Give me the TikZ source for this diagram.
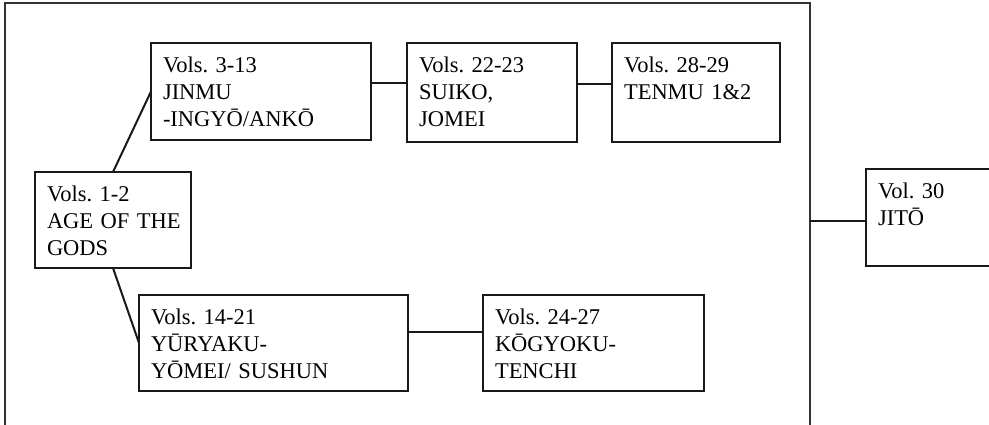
\documentclass[tikz,border=0pt]{standalone}
\usepackage{fontspec}
\setmainfont{Liberation Serif}
\frenchspacing
\begin{document}
\begin{tikzpicture}[x=1pt,y=-1pt,
  bx/.style={draw=black!90, line width=2.2pt, anchor=north west, outer sep=0pt,
    inner xsep=12pt, inner ysep=0pt, align=left, text height=29pt,
    font=\fontsize{22.5}{27}\selectfont},
  conn/.style={draw=black!90, line width=2pt},
  frm/.style={draw=black!80, line width=1.7pt, anchor=north west, outer sep=0pt, inner sep=0pt}]
\useasboundingbox (0,0) rectangle (989,424);
\node[frm, minimum width=805pt, minimum height=440pt] (frame) at (5,3) {};
\node[bx, text width=196pt, text depth=68pt] (b313) at (151,43) {Vols. 3-13\\JINMU\\-INGYŌ/ANKŌ};
\node[bx, text width=146pt, text depth=70pt] (b2223) at (407,43) {Vols. 22-23\\SUIKO,\\JOMEI};
\node[bx, text width=144pt, text depth=70pt] (b2829) at (612,43) {Vols. 28-29\\TENMU 1\&2};
\node[bx, text width=132pt, text depth=67pt] (b12) at (35,172) {Vols. 1-2\\\mbox{AGE OF THE}\\GODS};
\node[bx, text width=245pt, text depth=67pt] (b1421) at (139,295) {Vols. 14-21\\YŪRYAKU-\\YŌMEI/ SUSHUN};
\node[bx, text width=197pt, text depth=67pt] (b2427) at (483,295) {Vols. 24-27\\KŌGYOKU-\\TENCHI};
\node[bx, text width=140pt, text depth=68pt] (b30) at (866,169) {Vol. 30\\JITŌ};
\draw[conn] (b12.north) -- (b313.west);
\draw[conn] (b12.south) -- (b1421.west);
\draw[conn] ([yshift=9pt]b313.east) -- ([yshift=9pt]b313.east -| b2223.west);
\draw[conn] ([yshift=9pt]b2223.east) -- ([yshift=9pt]b2223.east -| b2829.west);
\draw[conn] ([yshift=11pt]b1421.east) -- ([yshift=11pt]b1421.east -| b2427.west);
\draw[conn] ([yshift=-3pt]b30.west -| frame.east) -- ([yshift=-3pt]b30.west);
\end{tikzpicture}
\end{document}
